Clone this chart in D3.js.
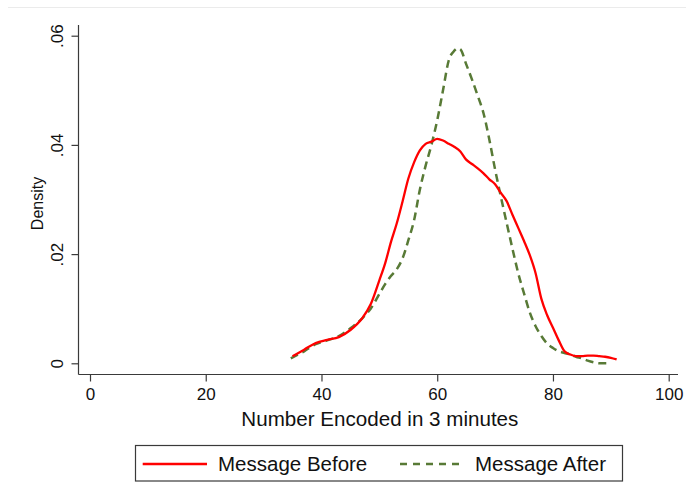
<!DOCTYPE html>
<html>
<head>
<meta charset="utf-8">
<script src="https://cdn.jsdelivr.net/npm/d3@7"></script>
<style>
  body { margin: 0; background: #fff; }
  svg { display: block; font-family: "Liberation Sans", Arial, sans-serif; }
</style>
</head>
<body>
<div id="plot"></div>
<script>
// Kernel density of items encoded, before vs after message
const beforeX = [35, 37, 39, 41, 43, 45, 47, 48.5, 50, 51, 52, 53, 54, 55, 56, 57, 58, 59, 60, 61,
  62, 63, 64, 65, 66, 67, 68, 69, 70, 71, 72, 73, 74, 75, 76, 77, 78, 79, 80, 81,
  82, 83, 84, 85, 86, 87, 88, 89, 90, 91];
const beforeY = [.0013, .0025, .0037, .0043, .0048, .0061, .0082, .0108, .0152, .0183, .0222, .0256, .0296, .0338, .0368, .0390, .0402, .0406, .0411, .0408,
  .0402, .0396, .0388, .0373, .0365, .0357, .0348, .0337, .0328, .0312, .0297, .0272, .0248, .0224, .0198, .0165, .0118, .0088, .0065, .0042,
  .0022, .0016, .0013, .0013, .0014, .0014, .0013, .0012, .0010, .0007];

const afterX = [34.7, 37, 39, 41, 43, 45, 47, 48.5, 50, 51, 52, 53, 54, 55, 56, 57, 58, 59, 60, 61,
  62, 63, 63.5, 64, 65, 66, 67, 68, 69, 70, 71, 72, 73, 74, 75, 76, 77, 78, 79, 80,
  81, 82, 83, 84, 85, 86, 87, 88, 89, 90];
const afterY = [.0009, .0022, .0035, .0042, .0050, .0064, .0082, .0100, .0127, .0145, .0160, .0172, .0192, .0225, .0262, .0318, .0362, .0400, .0445, .0500,
  .0555, .0573, .0577, .0575, .0548, .0520, .0490, .0458, .0410, .0355, .0305, .0257, .0210, .0165, .0128, .0093, .0068, .0050, .0036, .0028,
  .0022, .0019, .0016, .0012, .0009, .0005, .0002, .0000, .0000, .0000];

const xTicks = [0, 20, 40, 60, 80, 100];
const yTicks = [0, .02, .04, .06];
const yTickLabels = ["0", ".02", ".04", ".06"];
const seriesNames = ["Message Before", "Message After"];

const W = 686, H = 499;
const red = "#ff0000", green = "#587a36";

const svg = d3.select("#plot").append("svg")
    .attr("width", W)
    .attr("height", H);

// faint outer frame line at the top
svg.append("line")
    .attr("x1", 8).attr("x2", W).attr("y1", 7.5).attr("y2", 7.5)
    .attr("stroke", "#ebebeb").attr("stroke-width", 1);

const x = d3.scaleLinear().domain([0, 100]).range([90, 668.7]);
const y = d3.scaleLinear().domain([0, .06]).range([363.3, 35.7]);

const axisColor = "#3a3a3a";
const axisX0 = 78.5, axisY0 = 374.5;

// x axis
const gx = svg.append("g")
    .attr("transform", `translate(0,${axisY0})`)
    .call(d3.axisBottom(x).tickValues(xTicks).tickSize(7).tickPadding(6).tickFormat(d3.format("d")));
gx.select(".domain").attr("d", `M${axisX0},0H678`);

// y axis
const gy = svg.append("g")
    .attr("transform", `translate(${axisX0},0)`)
    .call(d3.axisLeft(y).tickValues(yTicks).tickSize(7).tickPadding(4)
        .tickFormat((d, i) => yTickLabels[i]));
gy.select(".domain").attr("d", `M0,25V${axisY0}`);

[gx, gy].forEach(g => {
    g.select(".domain").attr("stroke", axisColor).attr("stroke-width", 1.2);
    g.selectAll(".tick line").attr("stroke", axisColor).attr("stroke-width", 1.2);
    g.selectAll(".tick text").attr("fill", "#111").attr("font-size", 17)
        .attr("font-family", "Liberation Sans, Arial, sans-serif");
});

// rotate y tick labels
gy.selectAll(".tick text")
    .attr("text-anchor", "middle")
    .attr("dy", 0)
    .attr("transform", "translate(-16,0) rotate(-90)")
    .attr("x", 0).attr("y", 0);

// axis titles
svg.append("text")
    .attr("x", x(50) + 0.5).attr("y", 426)
    .attr("text-anchor", "middle")
    .attr("font-size", 20.6).attr("fill", "#111")
    .text("Number Encoded in 3 minutes");

svg.append("text")
    .attr("transform", `translate(43,${y(.03) + 4}) rotate(-90)`)
    .attr("text-anchor", "middle")
    .attr("font-size", 16).attr("fill", "#111")
    .text("Density");

// curves
const line = d3.line()
    .x(d => x(d[0]))
    .y(d => y(d[1]))
    .curve(d3.curveMonotoneX);

svg.append("path")
    .datum(afterX.map((v, i) => [v, afterY[i]]))
    .attr("d", line)
    .attr("fill", "none")
    .attr("stroke", green)
    .attr("stroke-width", 2.5)
    .attr("stroke-dasharray", "8,5");

svg.append("path")
    .datum(beforeX.map((v, i) => [v, beforeY[i]]))
    .attr("d", line)
    .attr("fill", "none")
    .attr("stroke", red)
    .attr("stroke-width", 2.3);

// legend
const lg = svg.append("g");
lg.append("rect")
    .attr("x", 135.5).attr("y", 445.5)
    .attr("width", 487).attr("height", 35.5)
    .attr("fill", "#fff").attr("stroke", axisColor).attr("stroke-width", 1.2);

lg.append("line")
    .attr("x1", 142.7).attr("x2", 207).attr("y1", 464).attr("y2", 464)
    .attr("stroke", red).attr("stroke-width", 2.3);
lg.append("text")
    .attr("x", 218).attr("y", 471)
    .attr("font-size", 20.5).attr("fill", "#111")
    .text(seriesNames[0]);

lg.append("line")
    .attr("x1", 400).attr("x2", 464).attr("y1", 464).attr("y2", 464)
    .attr("stroke", green).attr("stroke-width", 2.5)
    .attr("stroke-dasharray", "7,6");
lg.append("text")
    .attr("x", 475).attr("y", 471)
    .attr("font-size", 20.5).attr("fill", "#111")
    .text(seriesNames[1]);
</script>
</body>
</html>
